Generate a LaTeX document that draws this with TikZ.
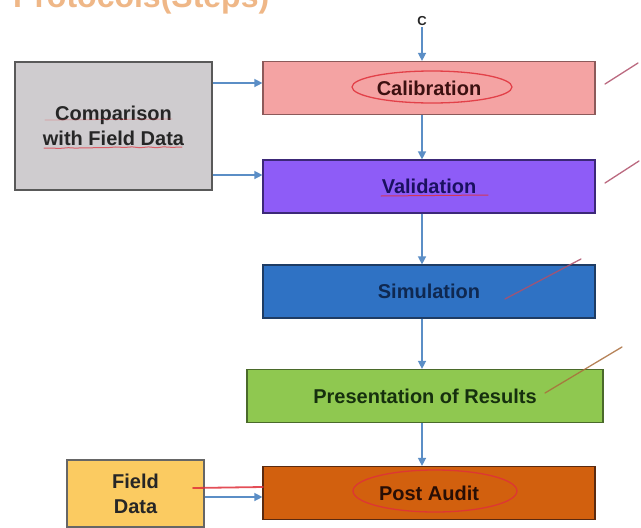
\documentclass[tikz,border=0pt]{standalone}
\usepackage{fontspec}
\setmainfont{Liberation Sans}
\usetikzlibrary{arrows.meta,decorations.pathmorphing}

\definecolor{flowblue}{HTML}{5B8EC6}
\definecolor{penred}{HTML}{E0303A}
\definecolor{penmix}{HTML}{B0506A}
\definecolor{penbrown}{HTML}{AA6E3C}
\definecolor{titleorange}{HTML}{EBA66A}
\definecolor{cmpfill}{HTML}{CFCCCF}
\definecolor{fldfill}{HTML}{FBCB61}
\definecolor{calfill}{HTML}{F4A3A3}
\definecolor{caldraw}{HTML}{8C5A5A}
\definecolor{caltext}{HTML}{3C1010}
\definecolor{valfill}{HTML}{8E5CF7}
\definecolor{valdraw}{HTML}{3C2878}
\definecolor{valtext}{HTML}{1A1060}
\definecolor{simfill}{HTML}{2F72C4}
\definecolor{simdraw}{HTML}{1E3C64}
\definecolor{simtext}{HTML}{0F2850}
\definecolor{presfill}{HTML}{8FC850}
\definecolor{presdraw}{HTML}{4A6A2A}
\definecolor{prestext}{HTML}{16300E}
\definecolor{pafill}{HTML}{D2600E}
\definecolor{padraw}{HTML}{5A2A10}
\definecolor{patext}{HTML}{280E05}

\tikzset{
  stage/.style={draw, line width=1.2pt, minimum width=332pt, minimum height=53pt,
    inner sep=0pt, font=\fontsize{20}{24}\selectfont\bfseries},
  sidebox/.style={draw, line width=1.2pt, inner sep=0pt, align=center,
    font=\fontsize{20}{25}\selectfont\bfseries},
  flow/.style={draw=flowblue, line width=1.4pt, -{Triangle[length=8pt,width=8pt]}},
  pen/.style={line width=1.3pt, line cap=round, opacity=0.85},
}

\begin{document}
\begin{tikzpicture}[x=1pt,y=-1pt]
\useasboundingbox (0,0) rectangle (641,528);
\fill[white] (0,0) rectangle (641,528);

% heading, only its lower part falls on the page
\node[anchor=base west, inner sep=0pt, text=titleorange, opacity=0.8,
  font=\fontsize{32}{34}\selectfont\bfseries] (title) at (13,7) {Protocols(Steps)};

% input side
\node[sidebox, fill=cmpfill, draw=black!65, text=black!85,
  minimum width=197pt, minimum height=128pt] (cmp) at (113.5,126) {Comparison\\with Field Data};
\node[sidebox, fill=fldfill, draw=black!60, text=black!85,
  minimum width=137pt, minimum height=67pt] (fld) at (135.5,493.5) {Field\\Data};

% main sequence of stages
\node[stage, fill=calfill, draw=caldraw, text=caltext] (cal) at (429,88) {Calibration};
\node[stage, fill=valfill, draw=valdraw, text=valtext] (val) at (429,186.5) {Validation};
\node[stage, fill=simfill, draw=simdraw, text=simtext] (sim) at (429,291.5) {Simulation};
\node[stage, minimum width=356pt, fill=presfill, draw=presdraw, text=prestext] (pres) at (425,396) {Presentation of Results};
\node[stage, fill=pafill, draw=padraw, text=patext] (pa) at (429,493) {Post Audit};

\node[font=\fontsize{13}{14}\selectfont\bfseries, text=black!85, inner sep=1pt] (cin) at (422,21) {C};

% connectors
\draw[flow] (cin.south) -- (cal.north -| cin);
\draw[flow] (cal.south -| cin) -- (val.north -| cin);
\draw[flow] (val.south -| cin) -- (sim.north -| cin);
\draw[flow] (sim.south -| cin) -- (pres.north -| cin);
\draw[flow] (pres.south -| cin) -- (pa.north -| cin);
\draw[flow] (cmp.east |- 0,83) -- (cal.west |- 0,83);
\draw[flow] (cmp.east |- 0,175) -- (val.west |- 0,175);
\draw[flow] (fld.east |- 0,497) -- (pa.west |- 0,497);

% hand-written marks
\draw[pen, penred] (432,87) ellipse [x radius=80, y radius=16];
\draw[pen, penred] (435,491) ellipse [x radius=82, y radius=21];
\draw[pen, penred, line width=0.8pt, opacity=0.35] (45,120) -- (172,119);
\draw[pen, penred, line width=1pt, opacity=0.7,
  decorate, decoration={random steps, segment length=8pt, amplitude=0.6pt}] (44,148) -- (182,147);
\draw[pen, penred, line width=1pt] (381,196) -- (488,195);
\draw[pen, penred, line width=1.8pt] (193,488) -- (263,487);
\draw[pen, penmix] (605,84) -- (638,63);
\draw[pen, penmix] (605,183) -- (639,161);
\draw[pen, penmix] (505,299) -- (581,259);
\draw[pen, penbrown] (545,393) -- (622,347);
\end{tikzpicture}
\end{document}
